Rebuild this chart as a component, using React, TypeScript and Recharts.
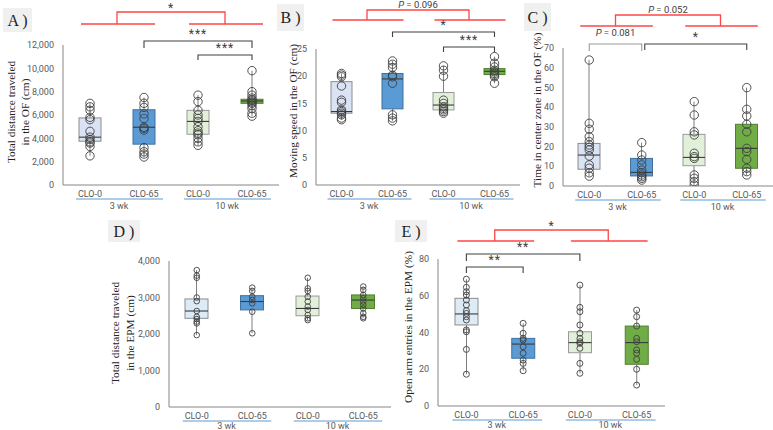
import React from 'react';
import { ComposedChart, Bar, Scatter, XAxis, YAxis } from 'recharts';

// ---------- categories ----------
const groupKeys = ['a', 'b', 'c', 'd'];
const treatmentLabels = ['CLO-0', 'CLO-65', 'CLO-0', 'CLO-65'];
const weekLabels = ['3 wk', '10 wk'];

// ---------- Panel A: total distance in OF (cm) ----------
const aMin = [2500, 2400, 3400, 5900];
const aQ1 = [3750, 3500, 4350, 7000];
const aMed = [4100, 4950, 5450, 7200];
const aQ3 = [5750, 6450, 6400, 7350];
const aMax = [7000, 7500, 7700, 9800];
const aPoints = [
  [7000, 6700, 6400, 5800, 5600, 4600, 4100, 3900, 3700, 3600, 3300, 2500],
  [7500, 7000, 6650, 6100, 5700, 4950, 4850, 4700, 3200, 2850, 2650, 2400],
  [7700, 7150, 6400, 6000, 5700, 5450, 5000, 4650, 4450, 4300, 4000, 3700, 3400],
  [9800, 8000, 7700, 7450, 7300, 7200, 7100, 7000, 6800, 6550, 6150, 5900],
];
const aTicks = [0, 2000, 4000, 6000, 8000, 10000, 12000];

// ---------- Panel B: moving speed in OF (cm) ----------
const bMin = [12.0, 11.8, 13.2, 18.7];
const bQ1 = [13.2, 14.0, 13.8, 20.3];
const bMed = [13.5, 19.5, 14.7, 20.9];
const bQ3 = [19.0, 20.5, 17.0, 21.4];
const bMax = [20.5, 22.8, 21.9, 23.6];
const bPoints = [
  [20.5, 20.2, 19.9, 18.2, 15.6, 15.2, 13.8, 13.5, 13.2, 12.9, 12.3, 12.0],
  [22.8, 22.2, 21.6, 20.2, 19.9, 18.7, 12.9, 12.3, 11.8],
  [21.9, 21.1, 20.0, 15.6, 15.0, 14.4, 14.1, 13.8, 13.5, 13.2],
  [23.6, 22.4, 21.7, 21.1, 20.8, 20.5, 20.2, 19.9, 18.7],
];
const bTicks = [0, 5, 10, 15, 20, 25];

// ---------- Panel C: time in center zone (%) ----------
const cMin = [5.0, 3.0, 0.5, 5.6];
const cQ1 = [8.5, 5.1, 10.3, 9.0];
const cMed = [15.7, 6.9, 14.5, 19.1];
const cQ3 = [21.6, 14.0, 26.2, 31.3];
const cMax = [63.9, 22.0, 42.8, 49.9];
const cPoints = [
  [63.9, 31.8, 28.8, 25.0, 22.5, 20.8, 19.6, 18.3, 15.2, 10.7, 9.0, 6.7, 5.0],
  [22.0, 15.7, 13.2, 10.7, 8.1, 6.7, 5.6, 4.7, 3.9, 3.0],
  [42.8, 36.0, 27.5, 25.9, 16.6, 14.9, 14.0, 5.6, 3.9, 2.2, 0.5],
  [49.9, 38.9, 35.5, 31.3, 27.5, 19.1, 17.4, 13.5, 9.0, 7.3, 5.6],
];
const cTicks = [0, 10, 20, 30, 40, 50, 60, 70];

// ---------- Panel D: total distance in EPM (cm) ----------
const dMin = [1970, 2020, 2380, 2430];
const dQ1 = [2430, 2660, 2500, 2700];
const dMed = [2630, 2890, 2700, 2930];
const dQ3 = [2960, 3050, 3040, 3070];
const dMax = [3750, 3270, 3540, 3300];
const dPoints = [
  [3750, 3600, 3540, 3000, 2900, 2630, 2470, 2410, 2340, 2290, 1970],
  [3270, 3180, 3020, 2930, 2840, 2610, 2020],
  [3540, 3250, 3180, 3020, 2890, 2750, 2660, 2520, 2430, 2380],
  [3300, 3210, 3070, 2980, 2890, 2800, 2700, 2570, 2470, 2430],
];
const dTicks = [0, 1000, 2000, 3000, 4000];

// ---------- Panel E: open arm entries (%) ----------
const eMin = [17.3, 19.2, 17.8, 11.4];
const eQ1 = [44.1, 26.0, 29.0, 22.7];
const eMed = [50.1, 33.7, 34.5, 34.5];
const eQ3 = [58.6, 36.8, 40.4, 43.5];
const eMax = [69.0, 45.0, 65.8, 52.2];
const ePoints = [
  [69.0, 64.6, 62.2, 60.4, 57.7, 55.0, 51.9, 50.4, 48.6, 46.8, 41.4, 40.4, 30.8, 17.3],
  [45.0, 39.6, 36.8, 35.9, 32.3, 28.7, 25.0, 23.2, 19.2],
  [65.8, 53.7, 51.3, 44.1, 39.6, 36.8, 35.0, 34.1, 31.4, 23.2, 17.8],
  [52.2, 48.6, 43.5, 36.8, 35.0, 30.5, 28.7, 25.4, 20.0, 11.4],
];
const eTicks = [0, 20, 40, 60, 80];

// ---------- styles ----------
const fillsTop = ['#dae3f3', '#5b9bd5', '#e2f0d9', '#70ad47'];
const fillsBottom = ['#ddebf7', '#5b9bd5', '#e2f0d9', '#70ad47'];
const boxStrokes = ['#8c8c8c', '#41719c', '#9a9a9a', '#507e32'];
const AXIS = '#868686';
const TICKC = '#595959';
const TICKFONT = 'Roboto, "Liberation Sans", sans-serif';
const SERIF = '"Liberation Serif", "DejaVu Serif", serif';
const RED = '#ff4545';

type Cfg = {
  id: string; L: number; T: number; W: number; H: number; yw: number; mt: number; gy: number;
  max: number; ticks: number[]; comma: boolean; boxW: number; r: number; fills: string[];
  min: number[]; q1: number[]; med: number[]; q3: number[]; mx: number[]; points: number[][];
};

const panels: Cfg[] = [
  { id: 'A', L: 0, T: 0, W: 279, H: 215, yw: 63, mt: 45, gy: 23.5, max: 12000, ticks: aTicks, comma: true, boxW: 22, r: 4.2, fills: fillsTop,
    min: aMin, q1: aQ1, med: aMed, q3: aQ3, mx: aMax, points: aPoints },
  { id: 'B', L: 253, T: 0, W: 267, H: 215, yw: 63, mt: 49, gy: 23.5, max: 25, ticks: bTicks, comma: false, boxW: 21, r: 4.2, fills: fillsTop,
    min: bMin, q1: bQ1, med: bMed, q3: bQ3, mx: bMax, points: bPoints },
  { id: 'C', L: 510, T: 0, W: 263, H: 216, yw: 53, mt: 48, gy: 23.5, max: 70, ticks: cTicks, comma: false, boxW: 22, r: 4.2, fills: fillsTop,
    min: cMin, q1: cQ1, med: cMed, q3: cQ3, mx: cMax, points: cPoints },
  { id: 'D', L: 110, T: 215, W: 281, H: 222, yw: 59, mt: 46, gy: 21.5, max: 4000, ticks: dTicks, comma: true, boxW: 23, r: 2.8, fills: fillsBottom,
    min: dMin, q1: dQ1, med: dMed, q3: dQ3, mx: dMax, points: dPoints },
  { id: 'E', L: 380, T: 215, W: 285, H: 221, yw: 58, mt: 44, gy: 21.5, max: 80, ticks: eTicks, comma: false, boxW: 23, r: 3, fills: fillsBottom,
    min: eMin, q1: eQ1, med: eMed, q3: eQ3, mx: eMax, points: ePoints },
];

const bandOf = (p: Cfg) => (p.W - p.yw) / 4;
const cx = (p: Cfg, i: number) => p.L + p.yw + bandOf(p) * (i + 0.5);

function makeBoxShape(p: Cfg) {
  return (props: any) => {
    const { x, y, width, height, payload, index } = props;
    const top = Math.min(y, y + height);
    const h = Math.abs(height);
    const q1 = payload.q1, q3 = payload.q3;
    const py = (v: number) => top + (h * (q3 - v)) / (q3 - q1);
    const mid = x + width / 2;
    const i = groupKeys.indexOf(payload.k);
    return (
      <g key={`box-${index}`}>
        <line x1={mid} x2={mid} y1={py(payload.max)} y2={py(payload.min)} stroke="#7f7f7f" strokeWidth={1} />
        <rect x={x} y={top} width={width} height={h} fill={p.fills[i]} stroke={boxStrokes[i]} strokeWidth={1} />
        <line x1={x} x2={x + width} y1={py(payload.med)} y2={py(payload.med)} stroke="#3a3a3a" strokeWidth={1.1} />
      </g>
    );
  };
}

function makeXTick(p: Cfg) {
  const band = bandOf(p);
  return (props: any) => {
    const { x, y, payload } = props;
    const i = groupKeys.indexOf(payload.value);
    return (
      <g>
        <text x={x} y={y + 11.5} textAnchor="middle" fontSize={9} fill={TICKC} fontFamily={TICKFONT}>
          {treatmentLabels[i]}
        </text>
        {i % 2 === 1 ? (
          <g>
            <line x1={x - band - 14} x2={x + 19} y1={y + 14} y2={y + 14} stroke="#5b9bd5" strokeWidth={1} />
            <text x={x - band / 2 + 2} y={y + p.gy} textAnchor="middle" fontSize={9} fill={TICKC} fontFamily={TICKFONT}>
              {weekLabels[(i - 1) / 2]}
            </text>
          </g>
        ) : null}
      </g>
    );
  };
}

function Panel({ p }: { p: Cfg }) {
  const rows = groupKeys.map((k, i) => ({
    k, range: [p.q1[i], p.q3[i]], q1: p.q1[i], q3: p.q3[i], med: p.med[i], min: p.min[i], max: p.mx[i],
  }));
  const pts = p.points.flatMap((arr, i) => arr.map((v) => ({ k: groupKeys[i], v })));
  const r = p.r;
  return (
    <div style={{ position: 'absolute', left: p.L, top: p.T }}>
      <ComposedChart width={p.W} height={p.H} data={rows} margin={{ top: p.mt, right: 0, bottom: 0, left: 0 }}>
        <XAxis dataKey="k" allowDuplicatedCategory={false} height={30} tickSize={0} tickMargin={0} interval={0}
          axisLine={{ stroke: AXIS }} tickLine={false} tick={makeXTick(p)} />
        <YAxis width={p.yw} type="number" domain={[0, p.max]} ticks={p.ticks} allowDataOverflow tickSize={0} tickMargin={9}
          axisLine={{ stroke: AXIS }} tickLine={false} interval={0}
          tick={{ fontSize: 9, fill: TICKC, fontFamily: TICKFONT }}
          tickFormatter={(v: number) => (p.comma ? v.toLocaleString('en-US') : String(v))} />
        <Bar dataKey="range" barSize={p.boxW} shape={makeBoxShape(p)} isAnimationActive={false} />
        <Scatter data={pts} dataKey="v" isAnimationActive={false}
          shape={(sp: any) => <circle cx={sp.cx} cy={sp.cy} r={r} fill="none" stroke="#3f3f3f" strokeWidth={0.9} />} />
      </ComposedChart>
    </div>
  );
}

// ---------- annotations (layout only) ----------
type Br = { p: number; i: number; j: number; y: number; leg: number; text: string; ty: number; gray?: boolean; x1off?: number };
const blackBrackets: Br[] = [
  { p: 0, i: 1, j: 3, y: 41, leg: 7, text: '***', ty: 41 },
  { p: 0, i: 2, j: 3, y: 55, leg: 5, text: '***', ty: 55 },
  { p: 1, i: 1, j: 3, y: 32, leg: 5, text: '*', ty: 32 },
  { p: 1, i: 2, j: 3, y: 47, leg: 5, text: '***', ty: 47 },
  { p: 2, i: 0, j: 1, y: 44, leg: 7, text: 'P081', ty: 41, gray: true },
  { p: 2, i: 1, j: 3, y: 44, leg: 6, text: '*', ty: 44, x1off: 3 },
  { p: 4, i: 0, j: 2, y: 254, leg: 7, text: '**', ty: 254 },
  { p: 4, i: 0, j: 1, y: 267, leg: 6, text: '**', ty: 267 },
];
type Rb = { p: number; yh: number; yt: number; text: string; ty: number };
const redBrackets: Rb[] = [
  { p: 0, yh: 24, yt: 12, text: '*', ty: 9 },
  { p: 1, yh: 20, yt: 10, text: 'P096', ty: 8 },
  { p: 2, yh: 26, yt: 15, text: 'P052', ty: 13 },
  { p: 4, yh: 241, yt: 230, text: '*', ty: 227 },
];

const pText = (key: string) => (key === 'P081' ? '0.081' : key === 'P096' ? '0.096' : '0.052');

function Label({ x, y, text }: { x: number; y: number; text: string }) {
  if (text.startsWith('P')) {
    return (
      <text x={x} y={y} textAnchor="middle" fontSize={9.5} fill="#404040" fontFamily={TICKFONT}>
        <tspan fontStyle="italic">P</tspan> = {pText(text)}
      </text>
    );
  }
  return (
    <text x={x} y={y + 5} textAnchor="middle" fontSize={12} fill="#404040" fontFamily={TICKFONT} letterSpacing={1}>
      {text}
    </text>
  );
}

const panelLetters = [
  { t: 'A )', x: 3, y: 8, w: 29, h: 24 },
  { t: 'B )', x: 277, y: 4, w: 27, h: 27 },
  { t: 'C )', x: 524, y: 3, w: 27, h: 28 },
  { t: 'D )', x: 108, y: 220, w: 32, h: 22 },
  { t: 'E )', x: 395, y: 220, w: 32, h: 22 },
];

const yLabels = [
  { lines: ['Total distance traveled', 'in the OF (cm)'], x: 11, y: 112, gap: 13.5 },
  { lines: ['Moving speed in the OF (cm)'], x: 293, y: 111, gap: 0 },
  { lines: ['Time in center zone in the OF (%)'], x: 537, y: 110, gap: 0 },
  { lines: ['Total distance traveled', 'in the EPM (cm)'], x: 115, y: 333, gap: 15 },
  { lines: ['Open arm entries in the EPM (%)'], x: 408, y: 327, gap: 0 },
];

function Overlay() {
  return (
    <svg width={773} height={430} style={{ position: 'absolute', left: 0, top: 0, pointerEvents: 'none' }}>
      {panelLetters.map((l) => (
        <g key={l.t}>
          <rect x={l.x} y={l.y} width={l.w} height={l.h} fill="#f0f0f0" />
          <text x={l.x + l.w / 2} y={l.y + l.h / 2 + 5.5} textAnchor="middle" fontSize={16} fontFamily={SERIF} fill="#222">
            {l.t}
          </text>
        </g>
      ))}
      {yLabels.map((l, k) => (
        <g key={k}>
          {l.lines.map((s, m) => (
            <text key={m} x={0} y={0} textAnchor="middle" fontSize={11.3} fontFamily={SERIF} fill="#222"
              transform={`translate(${l.x + m * l.gap + 4},${l.y}) rotate(-90)`}>
              {s}
            </text>
          ))}
        </g>
      ))}
      {redBrackets.map((b, k) => {
        const p = panels[b.p];
        const m1 = (cx(p, 0) + cx(p, 1)) / 2;
        const m2 = (cx(p, 2) + cx(p, 3)) / 2;
        return (
          <g key={k} stroke={RED} strokeWidth={1.3} fill="none">
            <line x1={cx(p, 0) - 9} x2={cx(p, 1) + 11} y1={b.yh} y2={b.yh} />
            <line x1={cx(p, 2) - 9} x2={cx(p, 3) + 11} y1={b.yh} y2={b.yh} />
            <polyline points={`${m1},${b.yh} ${m1},${b.yt} ${m2},${b.yt} ${m2},${b.yh}`} />
            <g stroke="none">
              <Label x={(m1 + m2) / 2} y={b.text === '*' ? b.ty - 2 : b.ty} text={b.text} />
            </g>
          </g>
        );
      })}
      {blackBrackets.map((b, k) => {
        const p = panels[b.p];
        const x1 = cx(p, b.i) + (b.x1off || 0);
        const x2 = cx(p, b.j);
        const col = b.gray ? '#9a9a9a' : '#404040';
        return (
          <g key={k}>
            <polyline points={`${x1},${b.y + b.leg} ${x1},${b.y} ${x2},${b.y} ${x2},${b.y + b.leg}`}
              fill="none" stroke={col} strokeWidth={1.1} />
            <Label x={(x1 + x2) / 2} y={b.text.startsWith('P') ? b.ty - 5 : b.ty - 8} text={b.text} />
          </g>
        );
      })}
    </svg>
  );
}

export default function App() {
  return (
    <div style={{ position: 'absolute', left: 0, top: 0, width: 773, height: 430, background: '#fff', overflow: 'hidden' }}>
      {panels.map((p) => (
        <Panel key={p.id} p={p} />
      ))}
      <Overlay />
    </div>
  );
}
